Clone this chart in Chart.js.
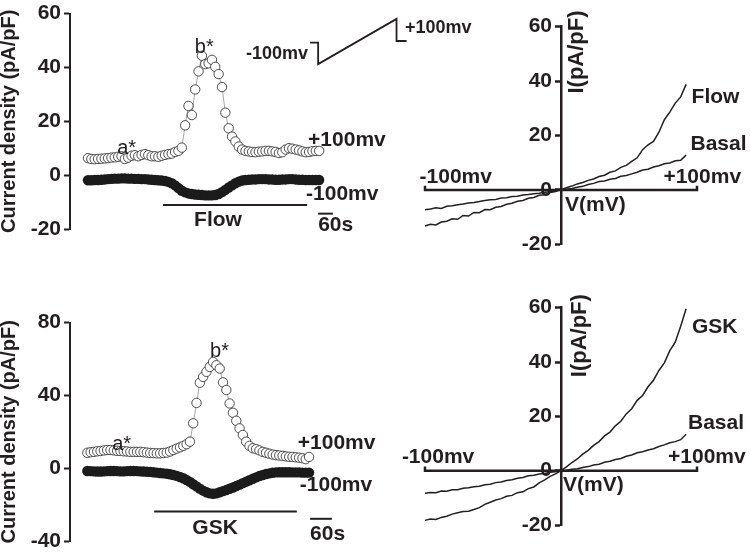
<!DOCTYPE html>
<html><head><meta charset="utf-8">
<script src="https://cdn.jsdelivr.net/npm/chart.js@4.4.0/dist/chart.umd.min.js"></script>
<style>
html,body{margin:0;padding:0;background:#fff;}
#wrap{position:relative;width:750px;height:556px;overflow:hidden;background:#fff;}
#wrap canvas{position:absolute;left:0;top:0;}
</style></head><body>
<div id="wrap">
<canvas id="c1" width="750" height="556"></canvas>
<canvas id="c2" width="750" height="556"></canvas>
<canvas id="c3" width="750" height="556"></canvas>
<canvas id="c4" width="750" height="556"></canvas>
</div>
<script>
// ---------- DATA ----------
// Time course, top (Flow): current density at +100 mV (open) and -100 mV (filled)
const flowHigh = [6.3,6.0,5.9,6.0,6.1,6.2,6.3,6.5,6.6,6.8,
  7.0,6.0,6.5,7.2,7.4,7.0,7.5,7.8,7.4,7.0,
  7.0,6.8,7.2,7.5,7.8,8.0,8.6,9.0,10.2,
  18.5,25.7,22.3,31.8,38.5,44.3,41.2,41.5,42.8,40.2,37.5,32.7,23.2,17.4,14.3,12.5,10.6,
  9.5,9.0,8.8,8.6,8.5,8.7,8.8,9.0,9.0,8.8,8.6,8.2,8.5,9.5,10.0,9.8,9.5,9.2,8.8,8.5,8.6,8.9,9.0,9.0];
const flowLow = [-1.9,-1.9,-1.8,-1.8,-1.7,-1.6,-1.5,-1.4,-1.3,-1.3,
  -1.2,-1.2,-1.3,-1.3,-1.4,-1.4,-1.5,-1.5,-1.6,-1.7,
  -1.8,-1.9,-2.0,-2.2,-2.5,
  -3.0,-3.8,-4.8,-5.8,-6.4,-6.8,-7.0,-7.2,-7.3,-7.4,-7.5,-7.5,-7.5,-7.4,-7.0,-6.3,-5.5,-4.6,-3.8,-3.0,-2.4,-2.0,
  -1.8,-1.7,-1.6,-1.6,-1.5,-1.5,-1.5,-1.6,-1.6,-1.7,-1.7,-1.6,-1.6,-1.5,-1.5,-1.6,-1.7,-1.7,-1.8,-1.8,-1.8,-1.8,-1.8];
// Time course, bottom (GSK)
const gskHigh = [8.5,8.8,9.0,9.3,9.5,9.8,10.0,10.0,9.8,9.6,
  9.5,9.3,9.2,9.0,9.0,9.0,9.0,8.8,8.6,8.4,
  8.3,8.2,8.2,8.4,8.6,9.2,10.0,10.8,11.5,12.3,13.2,14.6,
  24.7,35.9,47.0,50.2,53.0,55.7,58.4,56.6,54.8,47.2,43.0,35.6,30.5,26.1,21.9,18.3,14.6,12.3,
  11.0,10.5,9.8,9.0,8.5,8.0,7.5,7.2,7.0,6.8,6.5,6.3,6.2,6.0,5.8,5.5,5.0,6.2];
const gskLow = [-1.5,-1.6,-1.7,-1.8,-1.8,-1.7,-1.6,-1.5,-1.5,-1.6,-1.7,-1.7,-1.6,-1.5,-1.5,-1.6,-1.7,-1.8,-1.9,-2.0,
  -2.2,-2.4,-2.6,-2.8,-3.0,-3.3,-3.7,-4.2,-4.8,-5.5,
  -6.5,-7.5,-8.8,-10.0,-11.2,-12.3,-13.2,-13.8,-14.0,-13.8,
  -13.2,-12.6,-12.0,-11.3,-10.6,-9.8,-9.0,-8.2,-7.4,-6.6,
  -5.8,-5.0,-4.3,-3.7,-3.2,-2.8,-2.5,-2.3,-2.2,-2.2,
  -2.2,-2.2,-2.3,-2.3,-2.3,-2.4,-2.4,-2.4];
// Application bars and 60 s scale bars (sample index, pA/pF)
const flowBarX = [22.4, 65.4], flowBarY = [-11.1, -11.1];
const flowScaleX = [68.7, 73.1], flowScaleY = [-14.3, -14.3];
const gskBarX = [20.2, 63.3], gskBarY = [-23.8, -23.8];
const gskScaleX = [67.3, 73.9], gskScaleY = [-27.8, -27.8];
// Ramp protocol inset (-100 mV to +100 mV)
const rampX = [66.3, 68.7, 68.7, 92.1, 92.1, 95.1];
const rampY = [49.2, 49.2, 41.2, 58.0, 49.8, 49.8];

// I-V curves: voltage (mV) and current (pA/pF)
const voltage = [-100,-96,-92,-88,-84,-80,-76,-72,-68,-64,-60,-56,-52,-48,-44,-40,-36,-32,-28,-24,-20,-16,-12,-8,-4,0,
  4,8,12,16,20,24,28,32,36,40,44,48,52,56,60,64,68,72,76,80,84,88,92];
const ivFlow = [-13.3,-12.6,-12.9,-11.8,-11.5,-10.6,-10.8,-9.4,-9.6,-8.3,-8.4,-7.2,-7.3,-6.4,-6.1,-5.3,-4.9,-4.2,-3.9,-3.1,-2.8,-2.0,-1.8,-1.0,-0.6,0.1,
  0.8,1.4,2.2,2.7,3.5,4.0,4.9,5.4,6.5,7.0,8.3,9.0,10.5,11.8,14.8,16.6,17.8,21.2,25.8,28.6,31.9,34.2,38.8];
const ivFlowBasal = [-7.3,-7.0,-6.6,-6.8,-6.0,-5.8,-5.5,-5.2,-4.8,-4.6,-4.3,-3.9,-3.6,-3.5,-3.0,-2.9,-2.4,-2.3,-1.9,-1.7,-1.4,-1.2,-0.9,-0.7,-0.2,0.0,
  0.2,0.5,1.0,1.3,2.0,2.4,3.1,3.3,3.9,4.2,5.0,5.3,5.9,6.5,7.3,7.6,8.4,8.9,9.6,9.9,10.7,10.9,12.8];
const ivGsk = [-18.3,-17.8,-18.0,-17.2,-16.8,-16.0,-15.5,-15.0,-14.9,-14.3,-13.6,-12.4,-11.6,-10.8,-10.3,-9.4,-9.1,-8.1,-7.8,-6.6,-6.0,-4.5,-3.4,-2.1,-1.2,0.0,
  1.4,3.0,4.3,6.1,7.5,9.3,10.7,12.8,14.2,16.5,18.2,20.9,22.8,25.9,27.7,30.9,33.3,36.9,39.7,44.2,47.3,53.2,59.6];
const ivGskBasal = [-8.3,-8.0,-8.1,-7.5,-7.6,-7.0,-7.0,-6.5,-6.3,-5.9,-5.7,-5.2,-5.0,-4.4,-4.2,-3.6,-3.3,-2.8,-2.5,-1.9,-1.7,-1.2,-1.0,-0.6,-0.4,0.0,
  0.2,0.5,0.7,1.2,1.5,2.1,2.4,3.1,3.5,4.1,4.5,5.3,5.8,6.6,7.0,7.6,8.1,8.9,9.5,10.3,10.7,11.4,13.4];
// Voltage axis with end caps
const axisV = [-100, -100, 100, 100];
const axisI = [1.5, 0, 0, 1.5];

// ---------- DRAWING ----------
const INK = '#231f20';
const FAM = "'Liberation Sans', Arial, Helvetica, sans-serif";
const B21 = `bold 21px ${FAM}`, B18 = `bold 18px ${FAM}`, B22 = `bold 22px ${FAM}`, N20 = `20px ${FAM}`;
Chart.defaults.font.family = FAM;

const idx = arr => arr.map((_, i) => i);
const xy = (xs, ys) => xs.map((x, i) => ({x: x, y: ys[i]}));
// traces listed from +V to -V so that the whole sweep is drawn (not only the visible x range)
const xyRev = (xs, ys) => xy(xs, ys).reverse();

function notesPlugin(items) {
  return { id: 'notes', afterDraw(chart) {
    const ctx = chart.ctx, sx = chart.scales.x, sy = chart.scales.y;
    items.forEach(it => {
      ctx.save();
      ctx.font = it.font; ctx.fillStyle = INK;
      ctx.textAlign = it.align || 'left';
      ctx.textBaseline = it.base || 'middle';
      ctx.translate(sx.getPixelForValue(it.x), sy.getPixelForValue(it.y));
      if (it.rot) ctx.rotate(it.rot);
      ctx.fillText(it.text, 0, 0);
      ctx.restore();
    });
  }};
}
const lineDs = (data, w) => ({data, showLine:true, borderColor:INK, borderWidth:w, pointRadius:0, order:0, clip:false});

function timeChart(id, o) {
  return new Chart(document.getElementById(id), {
    type: 'scatter',
    data: { datasets: [
      ...o.lines,
      { data: o.low, showLine:false, pointRadius:5.2, pointBackgroundColor:'#1b1b1b', pointBorderColor:'#1b1b1b', pointBorderWidth:0, order:2 },
      { data: o.high, showLine:true, borderColor:'#8f8f8f', borderWidth:0.8, pointRadius:4.7,
        pointBackgroundColor:'#ffffff', pointBorderColor:'#3a3a3a', pointBorderWidth:0.9, order:1 }
    ]},
    options: {
      responsive:false, animation:false, events:[],
      layout:{ padding:o.padding },
      plugins:{ legend:{display:false}, tooltip:{enabled:false} },
      scales:{
        x:{ type:'linear', display:false, min:o.xmin, max:o.xmax },
        y:{ type:'linear', position:'left', min:o.ymin, max:o.ymax,
            afterFit: s => { s.width = 70; },
            border:{ display:true, color:INK, width:2 },
            grid:{ display:true, drawOnChartArea:false, drawTicks:true, tickLength:6, tickWidth:2, tickColor:INK },
            ticks:{ stepSize:o.step, color:INK, padding:3, font:{ family:FAM, size:21, weight:'bold', lineHeight:1 } },
            title:{ display:true, text:'Current density (pA/pF)', color:INK, padding:0,
                    font:{ family:FAM, size:20, weight:'bold', lineHeight:0.95 } } }
      }
    },
    plugins:[ notesPlugin(o.notes) ]
  });
}

// I-V panels: the current axis sits at V = 0 (left edge of the chart area);
// negative voltages are drawn to its left through the same linear x scale.
function ivChart(id, o) {
  return new Chart(document.getElementById(id), {
    type: 'scatter',
    data: { datasets: [
      lineDs(xyRev(axisV, axisI), 2.5),
      lineDs(xyRev(voltage, o.a), 1.5),
      lineDs(xyRev(voltage, o.b), 1.5)
    ]},
    options: {
      responsive:false, animation:false, events:[],
      layout:{ padding:o.padding },
      plugins:{ legend:{display:false}, tooltip:{enabled:false} },
      scales:{
        x:{ type:'linear', display:false, min:0, max:100 },
        y:{ type:'linear', position:'left', min:-20, max:60,
            afterFit: s => { s.width = 60; },
            border:{ display:true, color:INK, width:2.5 },
            grid:{ display:true, drawOnChartArea:false, drawTicks:true, tickLength:6, tickWidth:2.5, tickColor:INK },
            ticks:{ stepSize:20, color:INK, padding:3, font:{ family:FAM, size:21, weight:'bold', lineHeight:1 } } }
      }
    },
    plugins:[ notesPlugin(o.notes) ]
  });
}

timeChart('c1', {
  padding:{left:0, right:340, top:11, bottom:327},
  xmin:-5.37, xmax:96.12, ymin:-20, ymax:60, step:20,
  high: xy(idx(flowHigh), flowHigh), low: xy(idx(flowLow), flowLow),
  lines:[ lineDs(xy(flowBarX, flowBarY), 2), lineDs(xy(flowScaleX, flowScaleY), 2), lineDs(xy(rampX, rampY), 1.8) ],
  notes:[
    {text:'a*', x:8.7, y:7.7, font:N20, base:'alphabetic'},
    {text:'b*', x:31.9, y:45.5, font:N20, base:'alphabetic'},
    {text:'+100mv', x:65.7, y:13.0, font:B21},
    {text:'-100mv', x:65.1, y:-7.0, font:B21},
    {text:'Flow', x:38.8, y:-16.9, font:B21, align:'center'},
    {text:'60s', x:68.7, y:-18.7, font:B21},
    {text:'-100mv', x:65.7, y:44.8, font:B18, align:'right'},
    {text:'+100mv', x:94.6, y:54.7, font:B18}
  ]
});

ivChart('c2', {
  padding:{left:501, right:53, top:26.7, bottom:311.7},
  a: ivFlow, b: ivFlowBasal,
  notes:[
    {text:'Flow', x:96, y:34.2, font:B21},
    {text:'Basal', x:95.2, y:16.9, font:B21},
    {text:'-100mv', x:-104, y:4.8, font:B21},
    {text:'+100mv', x:75.3, y:4.8, font:B21},
    {text:'V(mV)', x:3, y:-5.5, font:B21},
    {text:'I(pA/pF)', x:11.8, y:50.7, font:B22, align:'center', rot:-Math.PI/2}
  ]
});

timeChart('c3', {
  padding:{left:0, right:340, top:322.7, bottom:15},
  xmin:-5.23, xmax:97.5, ymin:-40, ymax:80, step:40,
  high: xy(idx(gskHigh), gskHigh), low: xy(idx(gskLow), gskLow),
  lines:[ lineDs(xy(gskBarX, gskBarY), 2), lineDs(xy(gskScaleX, gskScaleY), 2) ],
  notes:[
    {text:'a*', x:7.5, y:10.0, font:N20, base:'alphabetic'},
    {text:'b*', x:37.1, y:61.0, font:N20, base:'alphabetic'},
    {text:'+100mv', x:63.6, y:13.9, font:B21},
    {text:'-100mv', x:64.2, y:-9.2, font:B21},
    {text:'GSK', x:38.6, y:-32.7, font:B21, align:'center'},
    {text:'60s', x:67.3, y:-36.5, font:B21}
  ]
});

ivChart('c4', {
  padding:{left:501, right:53, top:307.7, bottom:31},
  a: ivGsk, b: ivGskBasal,
  notes:[
    {text:'GSK', x:96.3, y:52.7, font:B21},
    {text:'Basal', x:93.4, y:17.3, font:B21},
    {text:'-100mv', x:-117, y:4.8, font:B21},
    {text:'+100mv', x:78.7, y:4.8, font:B21},
    {text:'V(mV)', x:1.5, y:-5.5, font:B21},
    {text:'I(pA/pF)', x:14, y:49.7, font:B22, align:'center', rot:-Math.PI/2}
  ]
});
</script>
</body></html>
